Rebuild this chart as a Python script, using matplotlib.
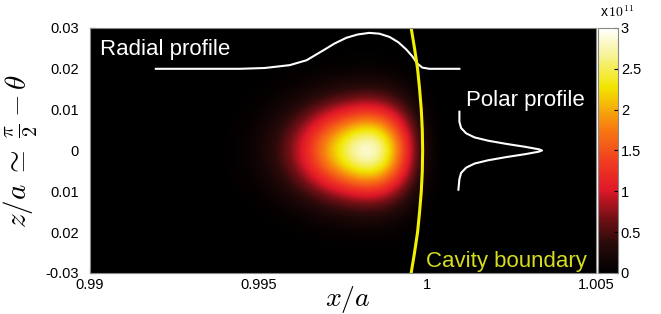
import numpy as np
import matplotlib
matplotlib.use('Agg')
import matplotlib.pyplot as plt
from matplotlib.colors import LinearSegmentedColormap
from matplotlib.ticker import FuncFormatter

plt.rcParams['font.family'] = ['Liberation Sans', 'DejaVu Sans']
plt.rcParams['mathtext.fontset'] = 'cm'

# field intensity (peak value, in field units)
peak = 2.88e11
# radial shape of the hot spot, samples every 0.00025 starting at x/a = 0.99375
glow_x0 = 0.99375
glow_dx = 0.00025
glow_radial = [0.0, 0.008, 0.014, 0.024, 0.038, 0.060, 0.091, 0.133, 0.189,
               0.260, 0.345, 0.442, 0.549, 0.655, 0.755, 0.845, 0.925, 0.980,
               1.0, 0.960, 0.860, 0.700, 0.520, 0.330, 0.170, 0.070, 0.020,
               0.0]
# polar shape, samples every 0.002 from z/a = -0.024 to 0.024
glow_z0 = -0.024
glow_dz = 0.002
glow_polar = [0.007, 0.015, 0.031, 0.061, 0.109, 0.183, 0.288, 0.421, 0.575,
              0.732, 0.871, 0.966, 1.0, 0.966, 0.871, 0.732, 0.575, 0.421,
              0.288, 0.183, 0.109, 0.061, 0.031, 0.015, 0.007]

# white radial profile curve
radial_x = [0.99195, 0.99444, 0.99518, 0.99592, 0.99642, 0.99689, 0.99725,
            0.99760, 0.99793, 0.99828, 0.99858, 0.99888, 0.99914, 0.99938,
            0.99956, 0.99970, 0.99985, 1.00006, 1.00095]
radial_z = [0.0200, 0.0200, 0.0202, 0.0209, 0.0221, 0.0244, 0.0262,
            0.0276, 0.0284, 0.0288, 0.0286, 0.0278, 0.0265, 0.0247,
            0.0230, 0.0213, 0.0203, 0.0200, 0.0200]

# white polar profile curve
polar_z = [0.0095, 0.0070, 0.0055, 0.0042, 0.0032, 0.0024, 0.0016, 0.0009,
           0.0003, 0.0, -0.0003, -0.0009, -0.0016, -0.0024, -0.0032,
           -0.0042, -0.0055, -0.0070, -0.0096]
polar_x = [1.00095, 1.00095, 1.00100, 1.00115, 1.00140, 1.00180, 1.00235,
           1.00290, 1.00330, 1.00340, 1.00330, 1.00290, 1.00235, 1.00180,
           1.00140, 1.00115, 1.00100, 1.00095, 1.00092]

# yellow cavity boundary
bound_z = [-0.03, -0.025, -0.02, -0.015, -0.01, -0.005, 0.0,
           0.005, 0.01, 0.015, 0.02, 0.025, 0.03]
bound_x = [0.99952, 0.99962, 0.99971, 0.99977, 0.99982, 0.99985, 0.99986,
           0.99985, 0.99982, 0.99977, 0.99971, 0.99962, 0.99952]

x_ticks = [0.99, 0.995, 1.0, 1.005]
x_ticklabels = ['0.99', '0.995', '1', '1.005']
y_ticks = [-0.03, -0.02, -0.01, 0.0, 0.01, 0.02, 0.03]
y_ticklabels = ['-0.03', '0.02', '0.01', '0', '0.01', '0.02', '0.03']
cb_ticks = [0, 0.5e11, 1e11, 1.5e11, 2e11, 2.5e11, 3e11]

cmap = LinearSegmentedColormap.from_list('hotspot', [
    (0.0, '#000000'), (0.12, '#2a0a0a'), (0.22, '#701015'),
    (0.34, '#e01828'), (0.45, '#f03a20'), (0.6, '#f88010'),
    (0.76, '#f2e600'), (0.9, '#f8f4a0'), (1.0, '#ffffff')])

fig = plt.figure(figsize=(6.61, 3.14), dpi=100)
ax = fig.add_axes([0.1362, 0.1306, 0.7655, 0.7803])
cax = fig.add_axes([0.9047, 0.1306, 0.0303, 0.7803])
ax.set_facecolor('black')

field = peak * np.outer(glow_polar, glow_radial)
nx = len(glow_radial)
nz = len(glow_polar)
ext = [glow_x0 - glow_dx / 2, glow_x0 + (nx - 0.5) * glow_dx,
       glow_z0 - glow_dz / 2, glow_z0 + (nz - 0.5) * glow_dz]
im = ax.imshow(field, origin='lower', extent=ext, aspect='auto',
               cmap=cmap, vmin=0, vmax=3e11, interpolation='bicubic')

ax.plot(radial_x, radial_z, color='white', lw=1.5)
ax.plot(polar_x, polar_z, color='white', lw=1.5)
ax.plot(bound_x, bound_z, color='#f0f000', lw=2.2)

ax.text(0.99030, 0.0235, 'Radial profile', color='white', fontsize=16)
ax.text(1.00115, 0.0108, 'Polar profile', color='white', fontsize=16)
ax.text(0.99995, -0.0285, 'Cavity boundary', color='#d6dc1e', fontsize=16)

ax.set_xlim(0.99, 1.005)
ax.set_ylim(-0.03, 0.03)
ax.set_xticks(x_ticks)
ax.set_xticklabels(x_ticklabels)
ax.set_yticks(y_ticks)
ax.set_yticklabels(y_ticklabels)
ax.tick_params(direction='in', length=4, color='black', labelsize=10.5)
ax.tick_params(axis='y', pad=8)
for s in ax.spines.values():
    s.set_color('#888888')

ax.set_xlabel(r'$x/a$', fontsize=20)
ax.set_ylabel(r'$z/a \;\simeq\; \frac{\pi}{2} - \theta$', fontsize=21)
ax.xaxis.set_label_coords(0.51, -0.045)
ax.yaxis.set_label_coords(-0.098, 0.5)

cb = fig.colorbar(im, cax=cax, ticks=cb_ticks)
cb.ax.yaxis.set_major_formatter(FuncFormatter(lambda v, p: '%g' % (v / 1e11)))
cb.ax.tick_params(labelsize=10.5, length=3, direction='in', pad=2)
cb.outline.set_edgecolor('#888888')
fig.text(0.907, 0.935, r'x$\,10^{11}$', fontsize=10, va='bottom')

fig.savefig('out.png', dpi=100)
